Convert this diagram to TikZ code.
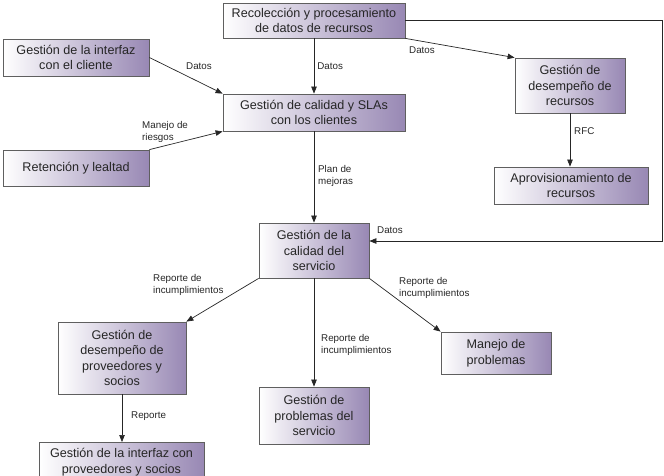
\documentclass[tikz,border=0pt]{standalone}
\usepackage{fontspec}
\setmainfont{Liberation Sans}
\usetikzlibrary{arrows.meta}
\definecolor{boxpurple}{RGB}{152,136,180}
\definecolor{boxline}{RGB}{95,95,95}
\tikzset{
  pbox/.style={draw=boxline, line width=0.8pt, left color=white, right color=boxpurple,
    align=center, font=\fontsize{12.6}{15.5}\selectfont, inner sep=0pt, anchor=center, text=black!85},
  conn/.style={draw=black!85, line width=0.7pt, -{Triangle[length=7pt,width=5.5pt]}},
  lbl/.style={font=\fontsize{9.8}{12}\selectfont, align=left, inner sep=0pt, text=black!85}
}
\begin{document}
\begin{tikzpicture}[x=1pt,y=-1pt]
\useasboundingbox (0,0) rectangle (664,475);
\clip (0,0) rectangle (664,475);
\node[pbox, minimum width=182, minimum height=35] (b1) at (314,20.5) {Recolección y procesamiento\\de datos de recursos};
\node[pbox, minimum width=146, minimum height=37] (b2) at (76,57.5) {Gestión de la interfaz\\con el cliente};
\node[pbox, minimum width=182, minimum height=37] (b3) at (314,112.5) {Gestión de calidad y SLAs\\con los clientes};
\node[pbox, minimum width=146, minimum height=36] (b4) at (76,168) {Retención y lealtad};
\node[pbox, minimum width=110, minimum height=55] (b5) at (570,85.5) {Gestión de\\desempeño de\\recursos};
\node[pbox, minimum width=154, minimum height=37] (b6) at (571,185.5) {Aprovisionamiento de\\recursos};
\node[pbox, minimum width=110, minimum height=55] (b7) at (314,250.5) {Gestión de la\\calidad del\\servicio};
\node[pbox, minimum width=110, minimum height=42] (b8) at (496,353) {Manejo de\\problemas};
\node[pbox, minimum width=110, minimum height=57] (b9) at (314,415.5) {Gestión de\\problemas del\\servicio};
\node[pbox, minimum width=128, minimum height=72] (b10) at (122,358) {Gestión de\\desempeño de\\proveedores y\\socios};
\node[pbox, minimum width=165, minimum height=40, anchor=north] (b11) at (121.5,442) {Gestión de la interfaz con\\proveedores y socios};

\draw[conn] (b1.south) -- (b3.north) node[lbl, pos=0.5, right=3pt] {Datos};
\draw[conn] (b1.south east) -- (b5.north west);
\node[lbl, anchor=west] (l2) at (409,50) {Datos};
\draw[conn] (b2.east) -- (b3.north west);
\node[lbl, anchor=west] (l3) at (186,66) {Datos};
\draw[conn] (b4.north east) -- (b3.south west);
\node[lbl, anchor=west] (l4) at (142,131.5) {Manejo de\\riesgos};
\draw[conn] (b3.south) -- (b7.north);
\node[lbl, anchor=west] (l5) at (318,175.5) {Plan de\\mejoras};
\draw[conn] (b5.south) -- (b5.south |- b6.north);
\node[lbl, anchor=west] (l6) at (574,131) {RFC};
\coordinate (loopc) at (662,241);
\draw[conn] (b1.east) -| (loopc) -- (b7.east |- loopc);
\node[lbl, anchor=west] (l7) at (377,230) {Datos};
\draw[conn] (b7.south west) -- (b10.north east);
\node[lbl, anchor=west] (l8) at (153,285) {Reporte de\\incumplimientos};
\draw[conn] (b7.south) -- (b9.north);
\node[lbl, anchor=west] (l9) at (321,345) {Reporte de\\incumplimientos};
\draw[conn] (b7.south east) -- (b8.north west);
\node[lbl, anchor=west] (l10) at (399,288) {Reporte de\\incumplimientos};
\draw[conn] (b10.south) -- (b10.south |- b11.north);
\node[lbl, anchor=west] (l11) at (131,416) {Reporte};
\end{tikzpicture}
\end{document}
